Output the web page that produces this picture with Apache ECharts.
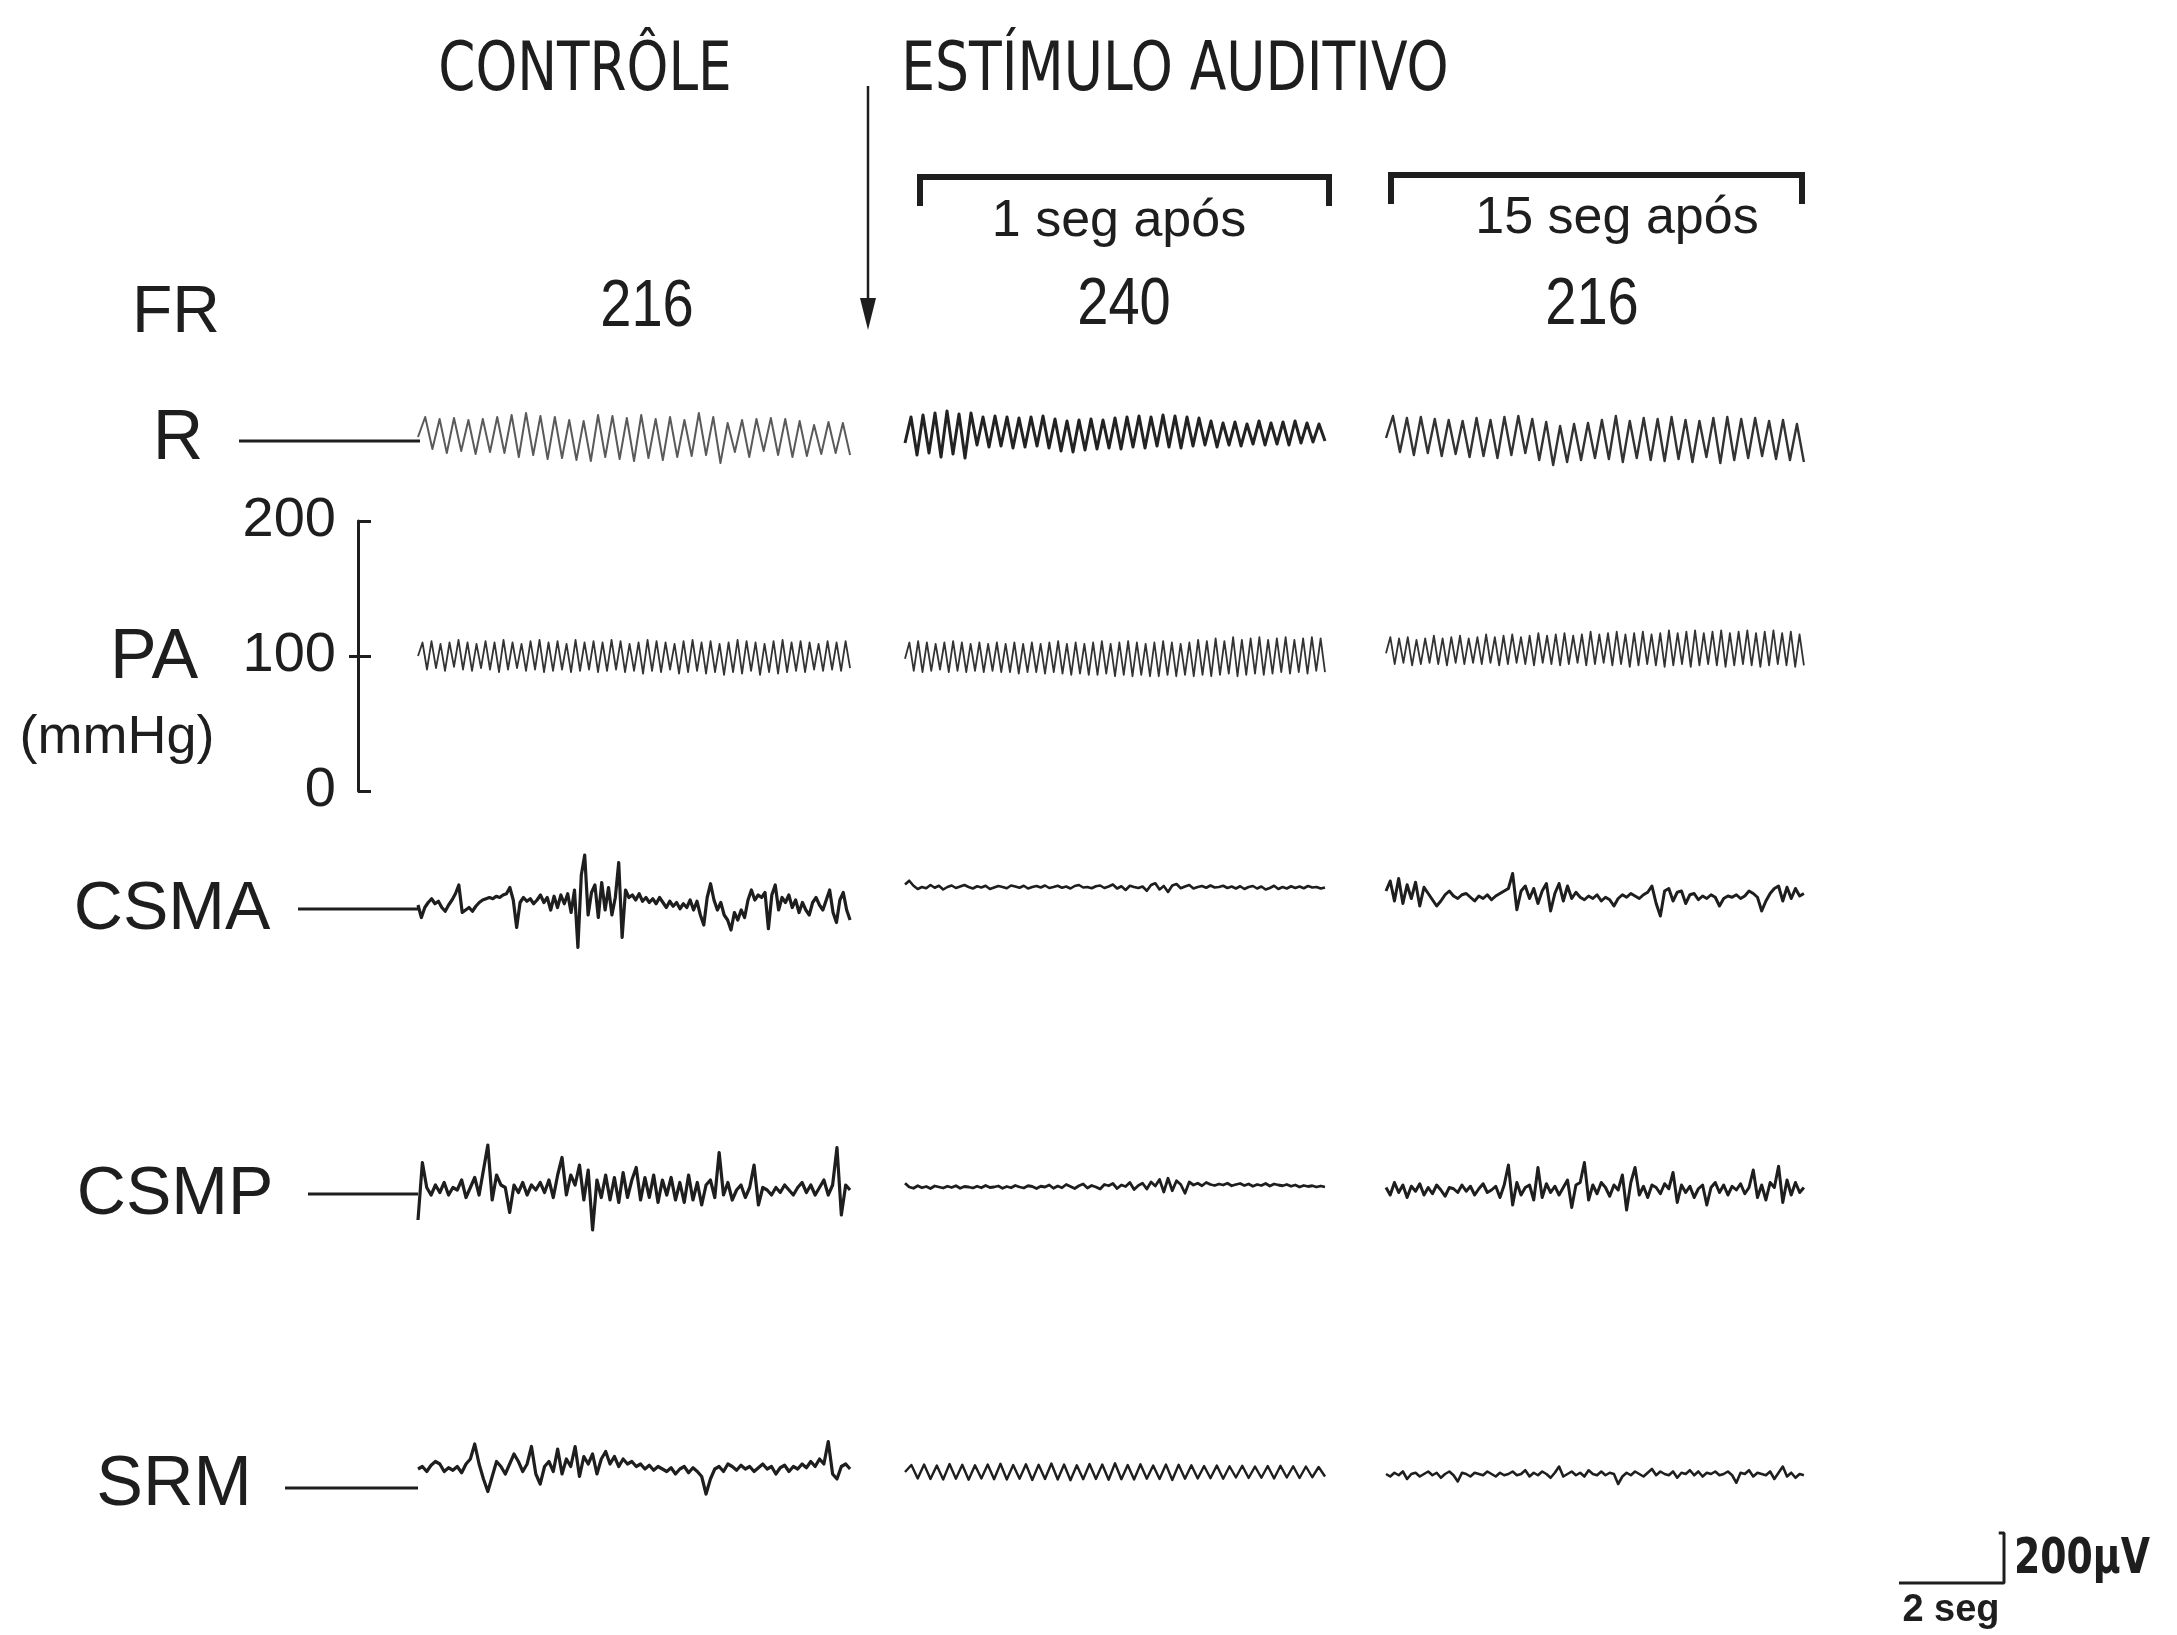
<!DOCTYPE html>
<html><head><meta charset="utf-8">
<script src="https://cdn.jsdelivr.net/npm/echarts@6.0.0/dist/echarts.min.js"></script>
<style>html,body{margin:0;padding:0;background:#fff}#c{width:2177px;height:1635px}</style>
</head><body><div id="c"></div>
<script>
// ---------------- data ----------------
const panelTitles = ['CONTRÔLE', 'ESTÍMULO AUDITIVO'];
const periodLabels = ['1 seg após', '15 seg após'];
const frLabel = 'FR';
const frValues = ['216', '240', '216'];
const rowLabels = ['R', 'PA', 'CSMA', 'CSMP', 'SRM'];
const paUnit = '(mmHg)';
const paTicks = [0, 100, 200];
const durations = [8.23, 8.0, 7.96];           // seconds shown in each panel
const scaleSec = 2, scaleUV = 200;              // calibration bar
const scaleLabels = ['200µV', '2 seg'];

// respiration (pen deflection, arbitrary units)
const R_ctrl = [0, 20,-12, 18,-16, 19,-14, 17,-17, 18,-15, 20,-16, 22,-20, 24,-18, 21,-22, 20,-21,
  17,-23, 16,-24, 22,-20, 21,-22, 19,-24, 22,-21, 18,-23, 20,-20, 17,-19, 24,-18,
  20,-26, 14,-15, 17,-20, 18,-14, 19,-18, 18,-20, 16,-19, 12,-17, 15,-16, 14,-18];
const R_1s = [-10, 16,-22, 18,-20, 20,-24, 22,-21, 19,-25, 20,-12, 16,-14, 17,-13, 16,-15, 15,-14,
  16,-13, 17,-15, 14,-18, 12,-19, 13,-17, 14,-16, 13,-15, 15,-16, 16,-14, 17,-15,
  16,-13, 18,-14, 17,-15, 16,-13, 15,-12, 12,-14, 10,-12, 11,-13, 9,-11, 12,-12,
  10,-11, 11,-12, 12,-10, 10,-9, 9,-8];
const R_15s = [0, 22,-14, 20,-17, 21,-15, 19,-18, 18,-16, 17,-19, 20,-18, 18,-20, 21,-17, 22,-15,
  19,-22, 16,-27, 12,-24, 14,-22, 15,-20, 18,-21, 22,-24, 17,-20, 20,-22, 19,-23,
  21,-21, 18,-24, 17,-19, 20,-25, 21,-22, 19,-20, 20,-18, 17,-21, 18,-22, 14,-24];

// arterial pressure, mmHg
const PA_ctrl = [100, 110,90, 111,91, 109,89, 110,92, 112,90, 110,89, 109,91, 111,90, 110,88, 112,90,
  110,91, 109,89, 111,90, 112,88, 110,89, 111,90, 109,88, 112,89, 110,90, 111,88,
  110,89, 112,90, 111,88, 109,89, 110,87, 112,89, 111,88, 110,90, 109,87, 111,88,
  112,89, 110,87, 111,88, 109,86, 110,88, 112,87, 111,89, 110,86, 109,88, 111,87,
  112,88, 110,89, 111,88, 110,90, 109,89, 111,90, 110,89, 111,91];
const PA_1s = [98, 110,89, 111,88, 110,89, 109,90, 110,88, 111,89, 110,88, 109,89, 110,88, 109,89,
  110,88, 109,88, 110,87, 109,88, 110,88, 109,87, 110,88, 111,87, 109,86, 110,87,
  109,86, 110,86, 111,87, 109,85, 110,86, 111,85, 110,86, 109,85, 110,85, 111,86,
  110,85, 109,86, 110,85, 112,86, 111,85, 113,86, 111,87, 114,85, 112,86, 113,87,
  114,86, 112,87, 113,88, 114,87, 112,88, 113,87, 114,89, 113,88];
const PA_15s = [102, 114,94, 113,95, 114,93, 112,94, 113,95, 115,94, 113,93, 114,95, 115,94, 113,95,
  114,94, 116,95, 114,93, 115,94, 116,95, 114,94, 115,93, 117,95, 115,94, 116,93,
  117,94, 115,95, 116,93, 118,94, 116,95, 117,93, 118,94, 116,92, 117,93, 118,94,
  116,93, 117,92, 119,93, 117,94, 118,92, 119,93, 117,94, 118,93, 119,92, 117,93,
  118,94, 119,93, 117,92, 118,93, 119,94, 117,93, 118,92, 116,93];

// EEG / EMG traces, µV
const CSMA_ctrl = [0,-50,-10,10,25,5,15,-10,-25,0, 20,45,80,-30,-20,-10,-25,-5,10,20,
  25,30,25,35,30,40,45,70,20,-90, 10,30,15,25,5,20,40,10,30,-20,
  35,-10,40,5,45,-30,60,-170,120,200, -40,50,80,-50,90,-20,70,-40,30,170,
  -130,60,30,40,20,45,15,30,10,25, 5,30,10,-10,15,-5,10,-15,5,-10,
  20,-20,15,-40,-80,30,85,20,-20,10, -40,-60,-100,-30,-60,-20,-50,20,60,20,
  40,30,50,-95,40,80,-20,30,10,40, -10,20,-30,10,-20,-40,10,30,0,-20,
  20,60,-30,-70,20,50,-20,-60];
const CSMA_1s = [10,25,5,-8,0,-5,8,-3,5,-10, 0,6,-4,2,8,0,-6,3,-2,5,
  -8,-2,4,0,-5,6,2,-3,5,-6, 0,4,-2,6,-4,0,5,-3,2,-6,
  4,8,-2,0,-5,3,6,-4,2,10, -6,3,-12,5,0,-4,2,-15,8,15,
  -10,4,-20,6,12,-5,2,8,-6,0, 4,-3,6,-2,0,5,-4,2,-6,3,
  -8,0,4,-6,2,-10,-4,5,-8,0, -6,3,-4,2,-5,4,-2,0,-6,-2];
const CSMA_15s = [20,60,-20,70,-30,45,-10,55,-40,35, 10,-15,-40,-20,5,20,0,-10,5,10,
  -5,-20,0,-10,5,-15,0,10,20,30, 90,-55,20,40,-10,30,-30,20,50,-60,
  10,50,-20,40,-10,15,-5,-15,0,-10, 5,-20,-5,-15,-40,-10,5,-5,10,0,
  -10,5,15,40,-30,-80,20,30,-20,15, 20,-30,5,10,-15,0,-10,5,-5,-40,
  -10,0,-5,5,-10,0,20,10,-5,-60, -20,10,30,40,-20,35,-10,30,0,10];
const CSMP_ctrl = [-120,110,10,-20,20,-10,30,-20,10,0, 40,-30,10,50,-20,80,180,-40,60,20,
  10,-90,20,-10,30,-20,20,0,30,-10, 40,-30,60,130,-20,60,20,100,-40,80,
  -160,40,-30,60,-40,50,-50,70,-30,40, 90,-40,50,-30,60,-50,40,-20,50,-40,
  30,-50,60,-40,30,-60,20,40,-30,150, -20,30,-40,0,20,-30,10,100,-60,10,
  0,-20,10,-10,20,0,-20,10,30,-10, 20,-20,10,40,-20,20,170,-100,20,0];
const CSMP_1s = [15,0,-5,5,-3,2,-6,4,0,-4, 3,-2,5,-5,2,0,-4,3,-3,6,
  -2,0,4,-5,2,-3,6,0,-4,5, 2,-6,3,0,8,-5,4,-3,10,2,
  -6,5,12,-4,6,0,-8,10,5,14, -6,8,2,18,-10,6,15,-8,20,4,
  30,-20,35,-15,25,10,-25,20,8,15, 5,18,10,6,12,8,15,5,10,14,
  6,12,3,10,6,14,4,12,8,5, 10,3,8,0,6,2,5,0,4,0];
const CSMP_15s = [10,-20,30,-10,20,-30,15,-5,25,-20, 10,-15,20,0,-25,10,5,-10,20,-5,
  15,-20,5,25,-10,0,15,-30,20,100, -60,30,-20,10,20,-40,90,-30,25,-10,
  15,-20,10,40,-70,20,30,110,-40,20, -15,30,10,-25,20,0,60,-80,30,90,
  -20,15,-30,20,10,-15,25,5,70,-50, 20,-10,15,-30,5,20,-60,10,30,-10,
  20,-20,15,0,25,-15,10,80,-30,20, -40,30,10,95,-50,40,-20,30,-10,10];
const SRM_ctrl = [0,10,-10,15,30,20,-10,5,-5,10, -15,20,40,100,20,-40,-90,-30,30,10,
  -20,20,60,30,-10,20,90,-20,-60,10, 30,-10,80,-20,40,10,90,-30,50,20,
  60,-20,40,70,20,50,10,40,20,30, 10,20,0,15,-5,10,0,-10,5,-20,
  0,10,-15,5,-10,-30,-100,-40,0,10, -10,20,10,-5,15,0,10,-10,5,20,
  0,10,-20,5,15,-10,10,0,20,5, 30,10,40,20,110,-20,-40,10,20,0];
const SRM_1s = [0, 28,-26, 30,-28, 26,-30, 32,-27, 29,-31, 27,-26, 30,-29, 33,-30, 28,-27, 31,-32,
  29,-28, 34,-30, 30,-33, 27,-29, 32,-28, 30,-31, 35,-29, 28,-30, 31,-27, 26,-28,
  30,-32, 29,-27, 27,-26, 24,-25, 26,-27, 23,-22, 25,-24, 22,-23, 24,-26, 25,-22,
  23,-24, 22,-21, 20,-18];
const SRM_15s = [0,-10,5,-5,10,-20,0,5,-10,0, 10,-5,5,-15,0,10,-5,-30,5,0,
  -10,5,0,-5,10,0,-10,5,-5,0, 10,-5,0,15,-10,5,-5,10,0,-15,
  5,30,-10,0,10,-5,5,-10,15,0, -5,10,-5,5,0,-40,-10,5,-5,10,
  0,-10,5,20,-5,10,0,-5,10,-15, 5,0,15,-5,10,-10,5,0,10,-5,
  0,10,-5,-35,5,0,15,-10,5,0, -5,10,-20,5,30,-10,5,-15,0,-5];

// ---------------- layout / style ----------------
const FONT = "'Liberation Sans', 'DejaVu Sans', sans-serif";
const COND = "'DejaVu Sans Condensed', 'DejaVu Sans', sans-serif";
const INK = '#1e1e1e';
const PX_PER_SEC = 52.5;
const PX_PER_UV = 0.25;
const colLeft = [418, 905, 1386];

const grids = [], xAxes = [], yAxes = [], series = [];
function addGrid(left, top, width, height, xmax, ymin, ymax, yAxisExtra) {
  const gi = grids.length;
  grids.push({left, top, width, height, containLabel: false, outerBoundsMode: 'none'});
  xAxes.push({type: 'value', gridIndex: gi, min: 0, max: xmax, show: false});
  yAxes.push(Object.assign({type: 'value', gridIndex: gi, min: ymin, max: ymax, show: false,
    splitLine: {show: false}}, yAxisExtra || {}));
  return gi;
}
function panel(o) {
  const gi = addGrid(o.left, o.top, o.dur * PX_PER_SEC, o.height, o.dur, o.ymin, o.ymax);
  const n = o.values.length;
  series.push({type: 'line', xAxisIndex: gi, yAxisIndex: gi,
    data: o.values.map((v, i) => [i * o.dur / (n - 1), v]),
    symbol: 'none', showSymbol: false, silent: true, animation: false, clip: false,
    lineStyle: {color: o.color || INK, width: o.width || 2.5, join: 'round'}});
  return gi;
}

// R rows
const rSets = [R_ctrl, R_1s, R_15s], rCenters = [437, 433, 438];
const rColors = ['#5a5a5a', '#222', '#333'], rWidths = [2, 3, 2.4];
rSets.forEach((vals, c) => panel({left: colLeft[c], top: rCenters[c] - 100, height: 200,
  dur: durations[c], ymin: -100, ymax: 100, values: vals, color: rColors[c], width: rWidths[c]}));

// PA rows (0-200 mmHg over 270 px)
const PA_TOP = 521, PA_H = 270;
const paSets = [PA_ctrl, PA_1s, PA_15s];
paSets.forEach((vals, c) => panel({left: colLeft[c], top: PA_TOP, height: PA_H, dur: durations[c],
  ymin: 0, ymax: 200, values: vals, color: '#333', width: 1.8}));

// PA pressure scale axis
const axGi = addGrid(358, PA_TOP, 10, PA_H, 1, 0, 200, {
  show: true, position: 'left', interval: 100,
  axisLine: {show: true, lineStyle: {color: INK, width: 3}},
  axisTick: {show: true, inside: true, length: 13, lineStyle: {color: INK, width: 3}},
  axisLabel: {show: true, color: INK, fontSize: 56, fontFamily: FONT, margin: 22,
    formatter: v => paTicks.includes(v) ? String(v) : ''}
});
series.push({type: 'line', xAxisIndex: axGi, yAxisIndex: axGi, data: [], symbol: 'none', silent: true});

// EEG rows
const eegRows = [
  {sets: [CSMA_ctrl, CSMA_1s, CSMA_15s], centers: [905, 887, 896], widths: [3.2, 2.6, 3]},
  {sets: [CSMP_ctrl, CSMP_1s, CSMP_15s], centers: [1190, 1187, 1190], widths: [3.2, 2.8, 3]},
  {sets: [SRM_ctrl, SRM_1s, SRM_15s], centers: [1469, 1472, 1474], widths: [3.2, 2.4, 2.6]}
];
const halfUV = 100 / PX_PER_UV;
eegRows.forEach(row => row.sets.forEach((vals, c) => panel({left: colLeft[c], top: row.centers[c] - 100,
  height: 200, dur: durations[c], ymin: -halfUV, ymax: halfUV, values: vals, width: row.widths[c]})));

// calibration bar (2 s / 200 µV)
const calGi = addGrid(1899, 1533, scaleSec * PX_PER_SEC, scaleUV * PX_PER_UV, scaleSec, 0, scaleUV);
series.push({type: 'line', xAxisIndex: calGi, yAxisIndex: calGi, symbol: 'none', silent: true,
  animation: false, clip: false, lineStyle: {color: INK, width: 3},
  data: [[0, 0], [scaleSec, 0], [scaleSec, scaleUV], [scaleSec * 0.95, scaleUV]]});

// outward stub of the middle (100 mmHg) tick on the pressure scale (added last: keeps indices aligned)
yAxes.push({type: 'value', gridIndex: axGi, min: 0, max: 200, position: 'left', show: true,
  axisLine: {show: false}, axisLabel: {show: false}, splitLine: {show: false},
  axisTick: {show: true, inside: false, length: 9, customValues: [paTicks[1]],
    lineStyle: {color: INK, width: 3}}});

// ---------------- graphic annotations ----------------
function txt(t, x, y, size, family, opts) {
  opts = opts || {};
  return {type: 'text', x, y, silent: true, scaleX: opts.sx || 1,
    style: {text: t, fill: INK,
      font: `${opts.weight || 'normal'} ${size}px ${family || FONT}`,
      textAlign: opts.align || 'center', align: opts.align || 'center',
      textVerticalAlign: 'middle', verticalAlign: 'middle'}};
}
function ln(x1, y1, x2, y2, w) {
  return {type: 'line', silent: true, shape: {x1, y1, x2, y2}, style: {stroke: INK, lineWidth: w || 3}};
}
const graphic = [
  txt(panelTitles[0], 585, 72, 68, COND, {sx: 0.87}),
  txt(panelTitles[1], 1175, 72, 68, COND, {sx: 0.875}),
  txt(periodLabels[0], 1119, 222, 52),
  txt(periodLabels[1], 1617, 219, 52),
  txt(frLabel, 176, 314, 66),
  txt(frValues[0], 647, 308, 66, FONT, {sx: 0.85}),
  txt(frValues[1], 1124, 306, 66, FONT, {sx: 0.85}),
  txt(frValues[2], 1592, 306, 66, FONT, {sx: 0.85}),
  txt(rowLabels[0], 178, 440, 70),
  txt(rowLabels[1], 154, 659, 70),
  txt(paUnit, 117, 738, 54),
  txt(rowLabels[2], 172, 910, 68),
  txt(rowLabels[3], 175, 1195, 68),
  txt(rowLabels[4], 174, 1486, 70),
  txt(scaleLabels[0], 2014, 1560, 50, COND, {weight: 'bold', sx: 0.84, align: 'left'}),
  txt(scaleLabels[1], 1951, 1611, 38, FONT, {weight: 'bold'}),
  ln(239, 441, 420, 441), ln(298, 909, 418, 909), ln(308, 1194, 418, 1194), ln(285, 1488, 418, 1488),
  ln(868, 86, 868, 306, 2.5),
  {type: 'polygon', silent: true, shape: {points: [[860, 298], [876, 298], [868, 330]]}, style: {fill: INK}},
  {type: 'polyline', silent: true, shape: {points: [[920, 206], [920, 177], [1329, 177], [1329, 206]]},
    style: {stroke: INK, lineWidth: 6, fill: null}},
  {type: 'polyline', silent: true, shape: {points: [[1391, 204], [1391, 175], [1802, 175], [1802, 204]]},
    style: {stroke: INK, lineWidth: 6, fill: null}}
];

const chart = echarts.init(document.getElementById('c'), null, {renderer: 'canvas'});
chart.setOption({backgroundColor: '#ffffff', animation: false,
  grid: grids, xAxis: xAxes, yAxis: yAxes, series, graphic});
</script></body></html>
